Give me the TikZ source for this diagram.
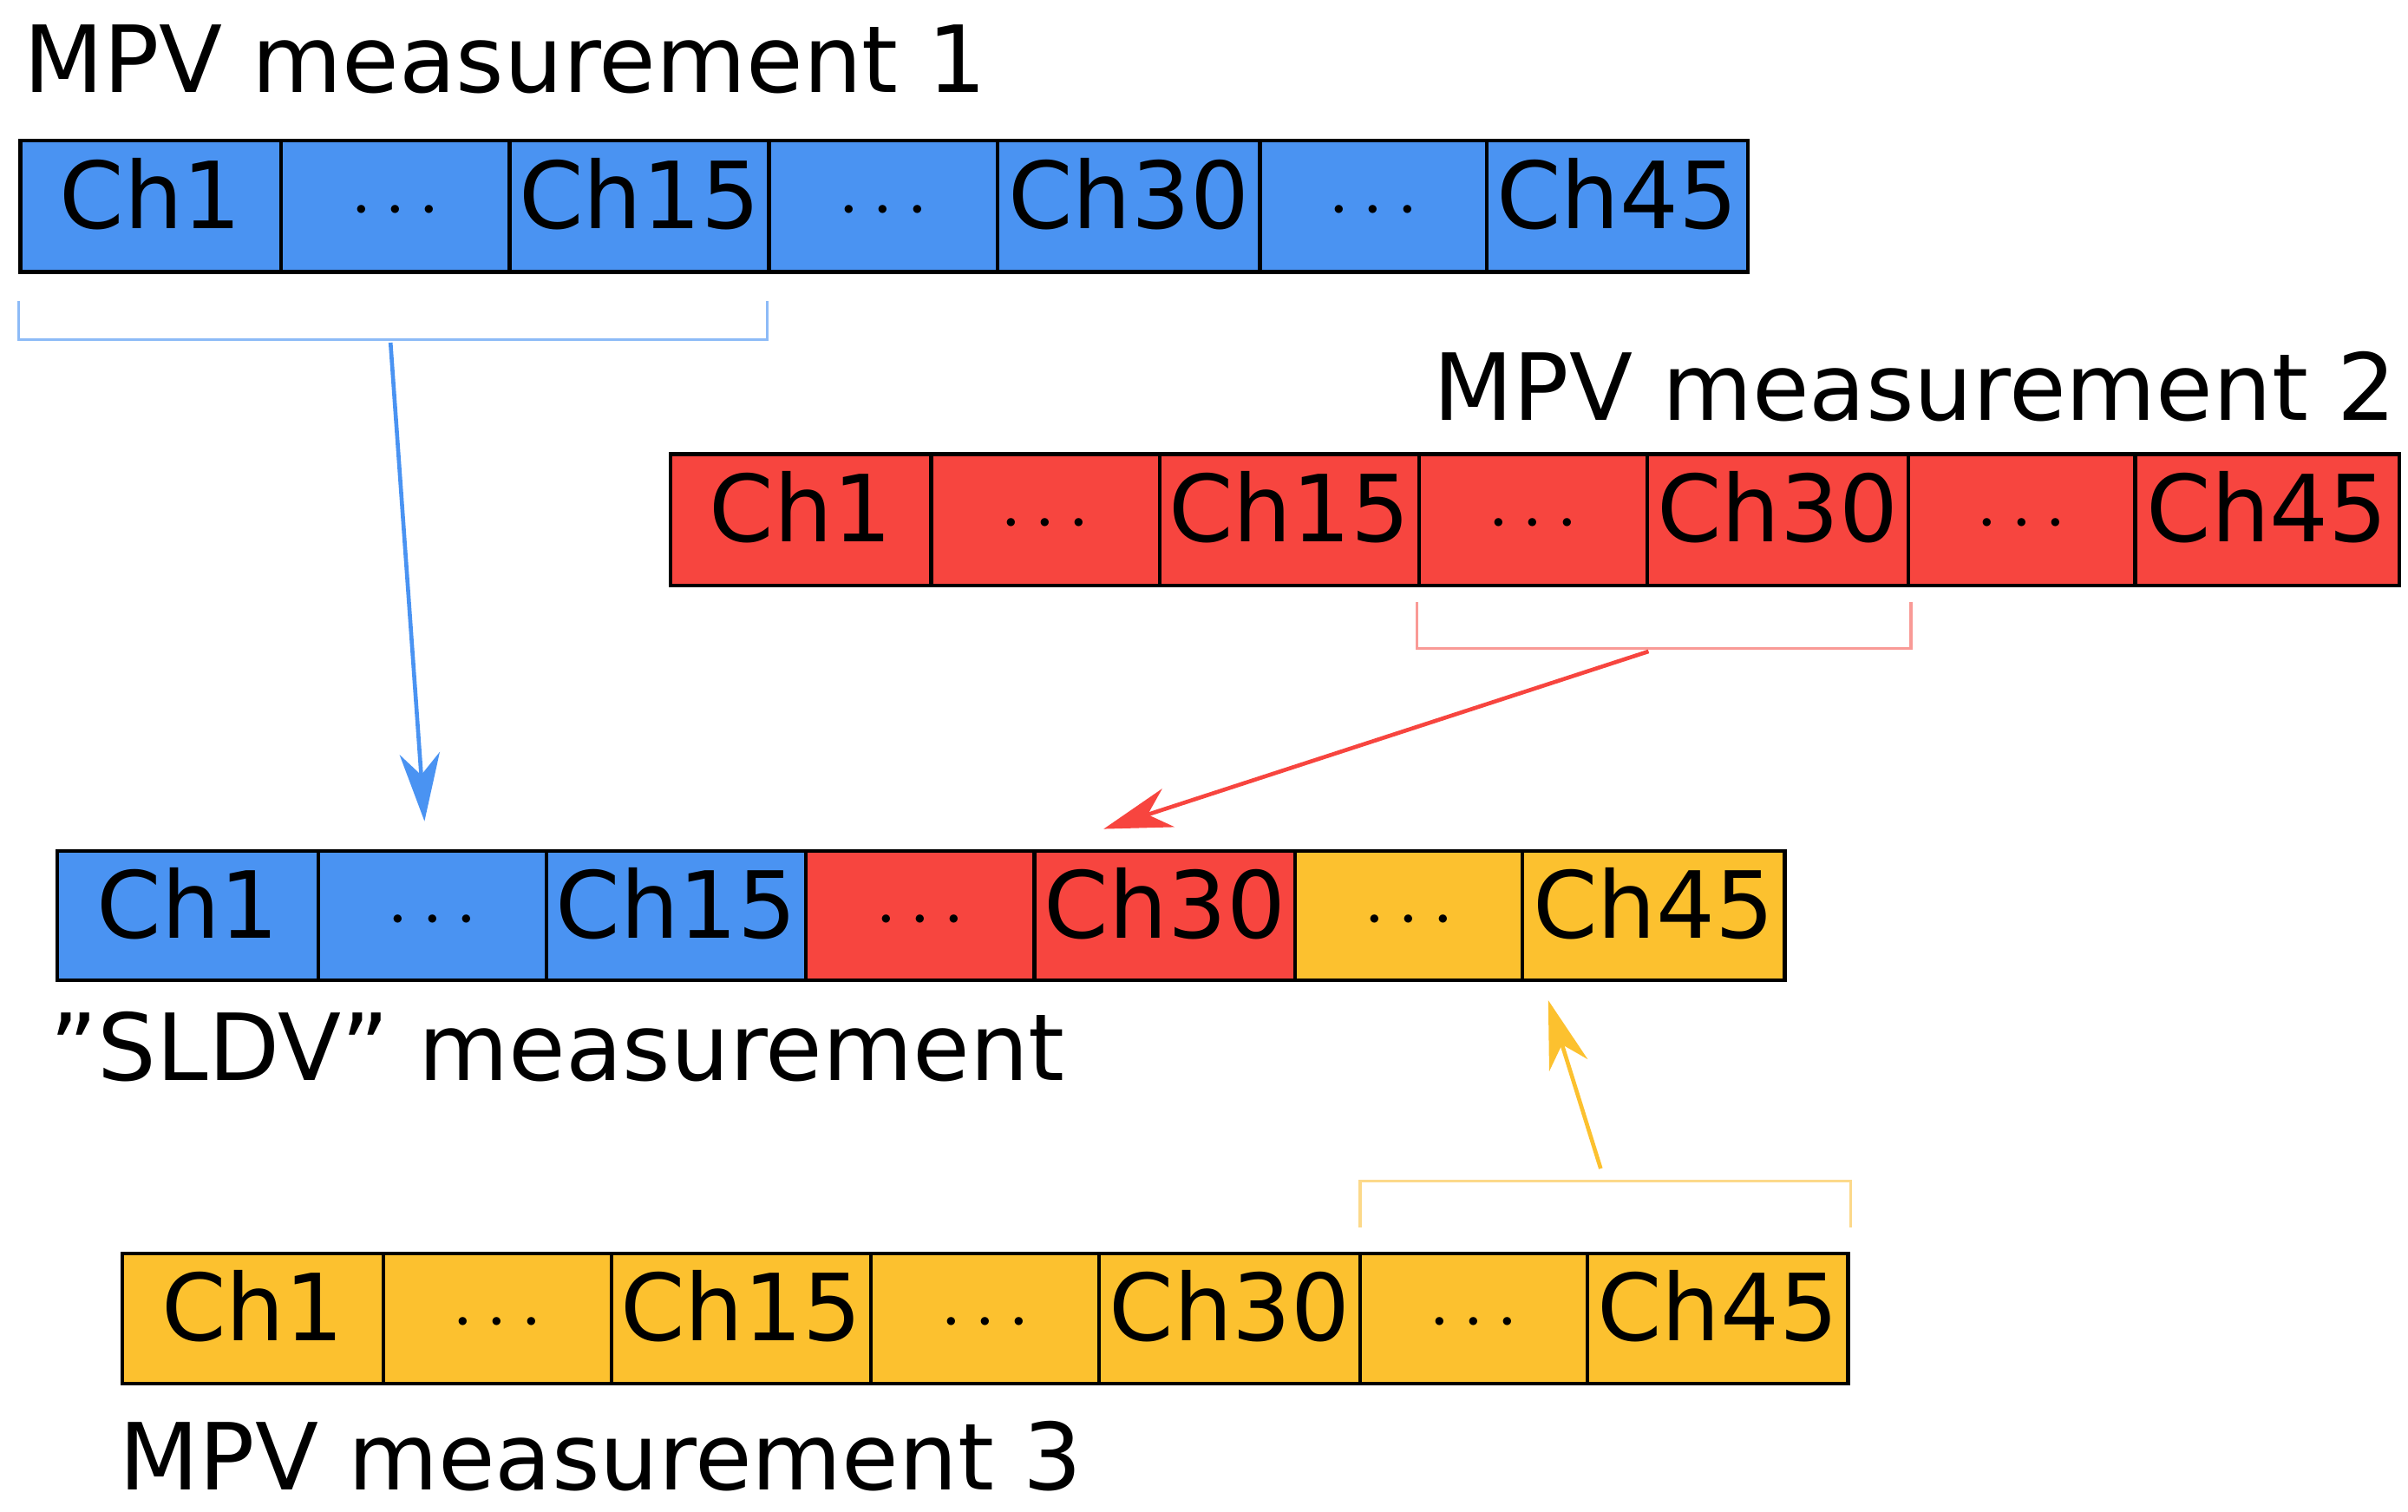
\documentclass[tikz,border=0pt]{standalone}
\usepackage{fontspec}
\setmainfont{DejaVu Sans}
\usetikzlibrary{arrows.meta}
\definecolor{cb}{HTML}{4A93F2}
\definecolor{cr}{HTML}{F7453F}
\definecolor{cy}{HTML}{FCC12F}
\definecolor{lb}{HTML}{8DBBF7}
\definecolor{lr}{HTML}{F99A96}
\definecolor{ly}{HTML}{FCD98A}
\begin{document}
\begin{tikzpicture}[x=0.5pt,y=-0.5pt,
  cell/.style={draw=black,line width=1.2pt,inner sep=0,font=\fontsize{30}{36}\selectfont},
  ttl/.style={inner sep=0,font=\fontsize{30}{36}\selectfont},
  br/.style={line width=1pt},
  ar/.style={line width=1.3pt,-{Stealth[length=22pt,width=13pt,inset=7pt]}}]
\useasboundingbox (0,0) rectangle (1560,979);
% rows: name, y0, y1, x-list, fill-list
\newcommand{\cellrow}[5]{%
  \foreach \xa/\xb/\t/\c [count=\i] in {#3}{%
    \node[cell,fill=\c,minimum width={(\xb-\xa)*0.5pt},minimum height={(#2-#1)*0.5pt},anchor=north west] (#4\i) at (\xa,#1) {\strut\t};}}
\cellrow{90}{175}{12/181/Ch1/cb,181/329/$\cdots$/cb,329/497/Ch15/cb,497/645/$\cdots$/cb,645/815/Ch30/cb,815/962/$\cdots$/cb,962/1131/Ch45/cb}{a}{}
\cellrow{293}{378}{433/602/Ch1/cr,602/750/$\cdots$/cr,750/918/Ch15/cr,918/1066/$\cdots$/cr,1066/1235/Ch30/cr,1235/1382/$\cdots$/cr,1382/1553/Ch45/cr}{b}{}
\cellrow{550}{634}{36/205/Ch1/cb,205/353/$\cdots$/cb,353/521/Ch15/cb,521/669/$\cdots$/cr,669/838/Ch30/cr,838/985/$\cdots$/cy,985/1155/Ch45/cy}{s}{}
\cellrow{811}{895}{78/247/Ch1/cy,247/395/$\cdots$/cy,395/563/Ch15/cy,563/711/$\cdots$/cy,711/880/Ch30/cy,880/1027/$\cdots$/cy,1027/1196/Ch45/cy}{c}{}
\node[ttl,anchor=base west] (t1) at (15,60) {MPV measurement 1};
\node[ttl,anchor=base east] (t2) at (1553,272) {MPV measurement 2};
\node[ttl,anchor=base west] (t3) at (32,700) {"SLDV" measurement};
\node[ttl,anchor=base west] (t4) at (77,965) {MPV measurement 3};
% brackets
\draw[br,lb] (12,195) -- (12,220) -- (497,220) -- (497,195);
\draw[br,lr] (918,390) -- (918,420) -- (1238,420) -- (1238,390);
\draw[br,ly] (881,795) -- (881,765) -- (1199,765) -- (1199,795);
\coordinate (p1) at (253,222); \coordinate (q1) at (275,532);
\coordinate (p2) at (1068,422); \coordinate (q2) at (715,537);
\coordinate (p3) at (1037,757); \coordinate (q3) at (1003,648);
\draw[ar,cb] (p1) -- (q1);
\draw[ar,cr] (p2) -- (q2);
\draw[ar,cy] (p3) -- (q3);
\end{tikzpicture}
\end{document}
